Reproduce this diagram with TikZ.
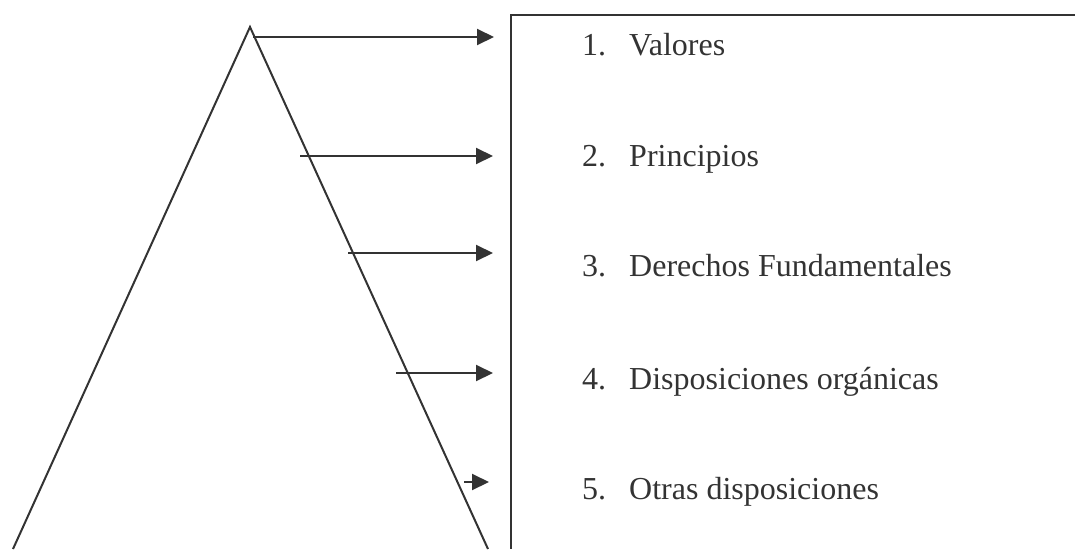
\documentclass[tikz,border=0pt]{standalone}
\usepackage{fontspec}
\setmainfont{Liberation Serif}
\usetikzlibrary{arrows.meta}
\definecolor{ink}{HTML}{333333}
\tikzset{
  line/.style={draw=ink, line width=2pt},
  arr/.style={line, -{Triangle[length=17pt,width=16pt]}},
  lbl/.style={anchor=base west, inner sep=0pt, text=ink, font=\fontsize{32}{38}\selectfont}
}
\begin{document}
\begin{tikzpicture}[x=1pt,y=-1pt]
\useasboundingbox (0,0) rectangle (1075,549);
% triangle
\coordinate (apex) at (250,27);
\coordinate (bl) at (13,549);
\coordinate (br) at (488,549);
\draw[line, line join=miter] (bl) -- (apex) -- (br);
% box (open)
\coordinate (boxtl) at (511,15);
\coordinate (boxtr) at (1075,15);
\coordinate (boxbl) at (511,549);
\draw[line] (boxtr) -- (boxtl) -- (boxbl);
% arrows
\coordinate (s1) at (253,37);  \coordinate (e1) at (494,37);
\coordinate (s2) at (300,156); \coordinate (e2) at (493,156);
\coordinate (s3) at (348,253); \coordinate (e3) at (493,253);
\coordinate (s4) at (396,373); \coordinate (e4) at (493,373);
\coordinate (s5) at (464,482); \coordinate (e5) at (489,482);
\draw[arr] (s1) -- (e1);
\draw[arr] (s2) -- (e2);
\draw[arr] (s3) -- (e3);
\draw[arr] (s4) -- (e4);
\draw[arr] (s5) -- (e5);
% labels
\node[lbl] (n1) at (582,55) {1.};  \node[lbl] (t1) at (629,55) {Valores};
\node[lbl] (n2) at (582,166) {2.}; \node[lbl] (t2) at (629,166) {Principios};
\node[lbl] (n3) at (582,276) {3.}; \node[lbl] (t3) at (629,276) {Derechos Fundamentales};
\node[lbl] (n4) at (582,389) {4.}; \node[lbl] (t4) at (629,389) {Disposiciones orgánicas};
\node[lbl] (n5) at (582,499) {5.}; \node[lbl] (t5) at (629,499) {Otras disposiciones};
\end{tikzpicture}
\end{document}
